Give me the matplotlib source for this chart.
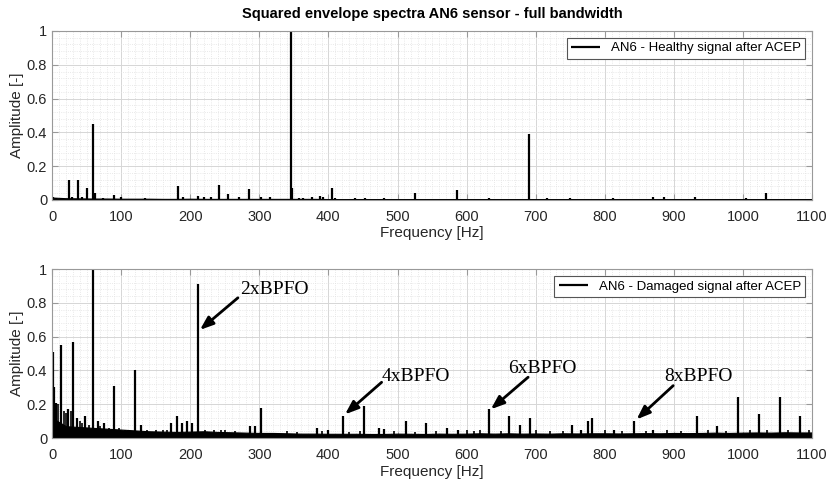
#!/usr/bin/env python3
import matplotlib
matplotlib.use("Agg")
import matplotlib.pyplot as plt
from matplotlib.ticker import MultipleLocator

# --- healthy signal (top) ---
healthy_peak_f = [2, 6, 25, 29, 37, 43, 50, 60, 62, 74, 90, 100, 134, 182, 190, 211, 220, 230,
                  241, 255, 270, 285, 302, 316, 345.5, 347.5, 358, 363, 376, 388, 392, 405.7,
                  410, 438, 453, 480, 526, 586.6, 632, 690, 716, 750, 812, 870, 885, 930, 1005, 1034]
healthy_peak_a = [0.015, 0.012, 0.12, 0.02, 0.115, 0.015, 0.07, 0.45, 0.04, 0.012, 0.03, 0.015,
                  0.01, 0.085, 0.015, 0.025, 0.015, 0.015, 0.09, 0.035, 0.015, 0.065, 0.02, 0.02,
                  1.0, 0.07, 0.012, 0.012, 0.02, 0.025, 0.015, 0.07, 0.012, 0.01, 0.01, 0.01,
                  0.04, 0.06, 0.012, 0.39, 0.012, 0.012, 0.012, 0.015, 0.02, 0.015, 0.012, 0.04]
healthy_floor_f = list(range(0, 1101, 20))
healthy_floor_a = [0.014, 0.01, 0.009, 0.008, 0.008, 0.007, 0.007, 0.007, 0.006, 0.006,
                   0.007, 0.006, 0.006, 0.006, 0.006, 0.006, 0.006, 0.006, 0.006, 0.006,
                   0.005, 0.005, 0.005, 0.005, 0.005, 0.005, 0.005, 0.005, 0.005, 0.005,
                   0.005, 0.005, 0.005, 0.005, 0.005, 0.005, 0.005, 0.005, 0.005, 0.005,
                   0.005, 0.005, 0.005, 0.005, 0.005, 0.005, 0.005, 0.005, 0.005, 0.005,
                   0.005, 0.005, 0.005, 0.005, 0.005, 0.005]

# --- damaged signal (bottom) ---
damaged_peak_f = [1, 3, 6, 13, 23, 30, 36, 48, 60, 67, 75, 90, 120, 129, 172, 181, 188, 195,
                  203, 211, 287, 294, 302, 383, 399, 421, 452, 473, 480, 512, 541, 571, 587,
                  633, 662, 677, 692, 752, 765, 775, 782, 813, 842, 870, 933, 962, 993, 1023,
                  1053, 1083]
damaged_peak_a = [0.51, 0.3, 0.21, 0.55, 0.17, 0.57, 0.12, 0.13, 1.0, 0.1, 0.09, 0.31, 0.4,
                  0.08, 0.09, 0.13, 0.09, 0.1, 0.09, 0.91, 0.07, 0.07, 0.18, 0.06, 0.045, 0.13,
                  0.19, 0.06, 0.055, 0.1, 0.09, 0.06, 0.05, 0.17, 0.13, 0.08, 0.12, 0.08, 0.05,
                  0.1, 0.12, 0.05, 0.1, 0.045, 0.13, 0.07, 0.24, 0.14, 0.24, 0.13]
# small ripples on top of the noise floor
damaged_ripple_f = [9, 17, 20, 27, 40, 44, 53, 70, 82, 97, 105, 112, 138, 150, 160, 167, 222,
                    235, 245, 250, 265, 340, 355, 390, 430, 445, 495, 525, 555, 600, 610, 620,
                    650, 700, 720, 740, 800, 825, 860, 890, 910, 950, 975, 1010, 1035, 1065, 1095]
damaged_ripple_a = [0.2, 0.16, 0.15, 0.16, 0.1, 0.09, 0.08, 0.07, 0.06, 0.06, 0.05, 0.05, 0.05,
                    0.045, 0.05, 0.045, 0.05, 0.05, 0.045, 0.05, 0.04, 0.04, 0.035, 0.04, 0.035,
                    0.04, 0.04, 0.035, 0.04, 0.045, 0.04, 0.045, 0.04, 0.045, 0.04, 0.04, 0.045,
                    0.04, 0.04, 0.045, 0.04, 0.045, 0.04, 0.045, 0.045, 0.045, 0.05]
damaged_floor_f = list(range(0, 1101, 20))
damaged_floor_a = [0.12, 0.07, 0.065, 0.06, 0.055, 0.05, 0.045, 0.04, 0.038, 0.036,
                   0.038, 0.04, 0.036, 0.034, 0.032, 0.03, 0.03, 0.028, 0.026, 0.026,
                   0.025, 0.025, 0.025, 0.024, 0.024, 0.026, 0.025, 0.024, 0.026, 0.025,
                   0.026, 0.028, 0.026, 0.028, 0.026, 0.027, 0.026, 0.028, 0.027, 0.028,
                   0.028, 0.027, 0.028, 0.029, 0.028, 0.03, 0.029, 0.03, 0.032, 0.03,
                   0.032, 0.033, 0.032, 0.034, 0.033, 0.033]

# harmonics of BPFO
bpfo_labels = ["2xBPFO", "4xBPFO", "6xBPFO", "8xBPFO"]
bpfo_tip = [(214, 0.64), (424, 0.14), (635, 0.17), (846, 0.11)]
bpfo_tail = [(269, 0.83), (477, 0.33), (689, 0.36), (899, 0.31)]
bpfo_text = [(272, 0.88), (477, 0.365), (660, 0.41), (886, 0.365)]

plt.rcParams['font.family'] = ['Liberation Sans', 'DejaVu Sans']

fig = plt.figure(figsize=(8.3, 4.84), dpi=100)
ax1 = fig.add_axes([0.0627, 0.587, 0.9157, 0.349])
ax2 = fig.add_axes([0.0627, 0.095, 0.9157, 0.349])


def style(ax):
    ax.set_xlim(0, 1100)
    ax.set_ylim(0, 1)
    ax.xaxis.set_major_locator(MultipleLocator(100))
    ax.xaxis.set_minor_locator(MultipleLocator(10))
    ax.yaxis.set_minor_locator(MultipleLocator(0.04))
    ax.set_yticks([0, 0.2, 0.4, 0.6, 0.8, 1])
    ax.set_yticklabels(["0", "0.2", "0.4", "0.6", "0.8", "1"])
    ax.grid(which='major', color='#d6d6d6', lw=0.7)
    ax.grid(which='minor', color='#e2e2e2', lw=0.6, ls=':')
    ax.set_axisbelow(True)
    ax.tick_params(which='both', direction='in', top=True, right=True,
                   colors='#262626', labelsize=10.5)
    ax.tick_params(which='major', length=4, color='#999999')
    ax.tick_params(axis='x', which='major', pad=7)
    ax.tick_params(which='minor', length=0)
    for s in ax.spines.values():
        s.set_color('#999999')
        s.set_linewidth(0.8)
    ax.set_xlabel("Frequency [Hz]", fontsize=11, color='#262626', labelpad=2)
    ax.set_ylabel("Amplitude [-]", fontsize=11, color='#262626', labelpad=2)


for ax, ff, fa, pf, pa, lab in [
        (ax1, healthy_floor_f, healthy_floor_a, healthy_peak_f, healthy_peak_a,
         "AN6 - Healthy signal after ACEP"),
        (ax2, damaged_floor_f, damaged_floor_a, damaged_peak_f, damaged_peak_a,
         "AN6 - Damaged signal after ACEP")]:
    ax.fill_between(ff, 0, fa, color='black', lw=0.8)
    ax.vlines(pf, 0, pa, color='black', lw=1.6, label=lab)
    style(ax)
    leg = ax.legend(loc='upper right', fontsize=9.5, fancybox=False, framealpha=1,
                    borderaxespad=0.5, handlelength=2.2, borderpad=0.35)
    leg.get_frame().set_edgecolor('#555555')
    leg.get_frame().set_linewidth(0.8)

ax2.vlines(damaged_ripple_f, 0, damaged_ripple_a, color='black', lw=1.2)

ax1.set_title("Squared envelope spectra AN6 sensor - full bandwidth",
              fontsize=10.5, fontweight='bold', pad=9)

for lab, tip, tail, tp in zip(bpfo_labels, bpfo_tip, bpfo_tail, bpfo_text):
    ax2.annotate("", xy=tip, xytext=tail,
                 arrowprops=dict(arrowstyle='-|>,head_length=0.8,head_width=0.3',
                                 color='black', lw=2, shrinkA=0, shrinkB=0))
    ax2.text(tp[0], tp[1], lab, family='Liberation Serif', fontsize=14,
             ha='left', va='center')

fig.savefig("out.png", dpi=100)
